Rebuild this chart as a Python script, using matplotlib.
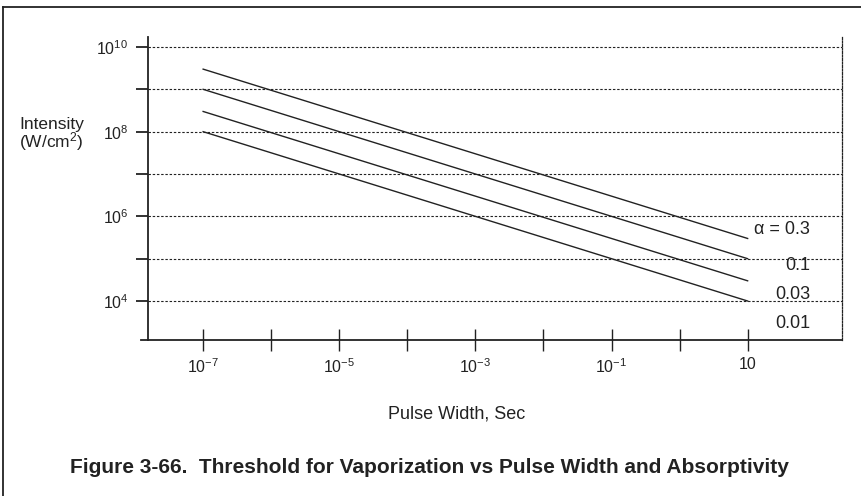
import numpy as np
import matplotlib.pyplot as plt
from matplotlib.lines import Line2D
from matplotlib.ticker import FixedLocator, NullLocator

plt.rcParams['font.family'] = ['Liberation Sans', 'DejaVu Sans']
plt.rcParams['mathtext.fontset'] = 'custom'
plt.rcParams['mathtext.rm'] = 'Liberation Sans'
plt.rcParams['mathtext.it'] = 'Liberation Sans:italic'

# threshold intensity at the two ends of each line (pulse width 1e-7 s and 10 s)
pulse_width = [1e-7, 10]
absorptivity = ['0.3', '0.1', '0.03', '0.01']
intensity_start = [3e9, 1e9, 3e8, 1e8]
intensity_end = [3e5, 1e5, 3e4, 1e4]
label_text = ['\u03b1 = 0.3', '0.1', '0.03', '0.01']

x_ticks = [1e-7, 1e-6, 1e-5, 1e-4, 1e-3, 1e-2, 1e-1, 1, 10]
x_labels = ['$\\mathregular{10^{-7}}$', '', '$\\mathregular{10^{-5}}$', '',
            '$\\mathregular{10^{-3}}$', '', '$\\mathregular{10^{-1}}$', '', '10']
y_ticks = [1e4, 1e5, 1e6, 1e7, 1e8, 1e9, 1e10]
y_labels = ['$\\mathregular{10^{4}}$', '', '$\\mathregular{10^{6}}$', '',
            '$\\mathregular{10^{8}}$', '', '$\\mathregular{10^{10}}$']

ink = '#222222'

fig = plt.figure(figsize=(8.61, 4.96), dpi=100)
ax = fig.add_axes([0.1719, 0.3145, 0.8060, 0.6109])
ax.set_xscale('log')
ax.set_yscale('log')
ax.set_xlim(10**-7.81, 10**2.386)
ax.set_ylim(10**3.079, 10**10.236)

# dotted decade lines
for y in y_ticks:
    ax.plot([10**-7.81, 10**2.386], [y, y], color=ink, lw=0.8,
            dashes=(2.2, 1.6), zorder=1)

for s, e in zip(intensity_start, intensity_end):
    ax.plot(pulse_width, [s, e], color=ink, lw=1.0, zorder=2)

label_y = [10**5.70, 10**4.83, 10**4.165, 10**3.48]
for t, y in zip(label_text, label_y):
    ax.text(10**1.915, y, t, ha='right', va='center', fontsize=13, color=ink)

for side in ['top', 'bottom']:
    ax.spines[side].set_visible(False)
ax.spines['left'].set_color(ink)
ax.spines['left'].set_linewidth(1.3)
ax.spines['right'].set_color(ink)
ax.spines['right'].set_linewidth(0.9)
ax.spines['right'].set_linestyle((0, (1.6, 1.2)))

# x axis line runs a little past the y axis
ax.add_line(Line2D([-0.0101, 1.0], [0, 0], transform=ax.transAxes,
                   color=ink, lw=1.3, clip_on=False))

ax.xaxis.set_major_locator(FixedLocator(x_ticks))
ax.xaxis.set_minor_locator(NullLocator())
ax.set_xticklabels(x_labels)
ax.yaxis.set_major_locator(FixedLocator(y_ticks))
ax.yaxis.set_minor_locator(NullLocator())
ax.set_yticklabels(y_labels)

ax.tick_params(axis='x', direction='inout', length=16.5, width=1.0,
               color=ink, labelsize=11.5, labelcolor=ink, pad=4)
ax.tick_params(axis='y', direction='out', length=8.6, width=1.3,
               color=ink, labelsize=11.5, labelcolor=ink, pad=5.5)

fig.text(0.022, 0.750, 'Intensity', fontsize=12.5, color=ink, va='center')
fig.text(0.022, 0.714, '(W/cm$\\mathregular{^2}$)', fontsize=12.5, color=ink,
         va='center')
fig.text(0.53, 0.165, 'Pulse Width, Sec', fontsize=13, color=ink,
         ha='center', va='center')
fig.text(0.499, 0.057,
         'Figure 3-66.  Threshold for Vaporization vs Pulse Width and Absorptivity',
         fontsize=15, fontweight='bold', color=ink, ha='center', va='center')

# page frame on the top and left edges
fig.add_artist(Line2D([0.0035, 1.0], [0.986, 0.986], transform=fig.transFigure,
                      color=ink, lw=1.3))
fig.add_artist(Line2D([0.0035, 0.0035], [0.0, 0.986], transform=fig.transFigure,
                      color=ink, lw=1.3))

fig.savefig('out.png', dpi=100)
